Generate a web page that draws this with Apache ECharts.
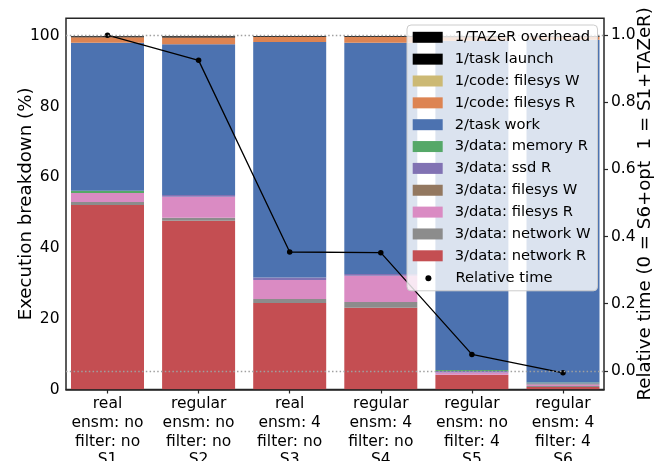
<!DOCTYPE html>
<html>
<head>
<meta charset="utf-8">
<script src="https://cdn.jsdelivr.net/npm/echarts@6/dist/echarts.min.js"></script>
<style>
  html, body { margin: 0; padding: 0; background: #fff; }
  #chart { width: 667px; height: 461px; }
</style>
</head>
<body>
<div id="chart"></div>
<script>
// Scenario descriptors (one per bar)
const runKind   = ['real', 'regular', 'real', 'regular', 'regular', 'regular'];
const ensemble  = ['no', 'no', '4', '4', 'no', '4'];
const filter    = ['no', 'no', 'no', 'no', '4', '4'];
const scenario  = ['S1', 'S2', 'S3', 'S4', 'S5', 'S6'];

// Execution breakdown, percent of each run (stack order: bottom to top)
const networkR    = [52.2, 47.7, 24.5, 23.1, 4.1, 0.7];
const networkW    = [0.85, 0.85, 1.1, 1.65, 0.1, 0.3];
const dataFsR     = [2.55, 5.95, 5.4, 7.4, 0.6, 0.35];
const dataFsW     = [0, 0, 0, 0, 0, 0.1];
const ssdR        = [0, 0.55, 0.65, 0.55, 0.4, 0.3];
const memoryR     = [0.6, 0, 0, 0, 0.35, 0.25];
const taskWork    = [41.9, 42.6, 66.65, 65.4, 93.1, 96.9];
const codeFsR     = [1.55, 1.9, 1.4, 1.6, 1.0, 0.8];
const codeFsW     = [0, 0, 0, 0, 0, 0];
const taskLaunch  = [0.2, 0.3, 0.2, 0.2, 0.2, 0.2];
const tazerOver   = [0.15, 0.15, 0.1, 0.1, 0.15, 0.1];

// Relative run time (0 = S6+opt, 1 = S1+TAZeR)
const relTime = [1.0, 0.925, 0.354, 0.352, 0.049, -0.006];

// Tick values
const pctTicks = [0, 20, 40, 60, 80, 100];
const relTicks = [0, 0.2, 0.4, 0.6, 0.8, 1.0];

const FONT = 'DejaVu Sans';
const INK = '#262626';

const stackDefs = [
  { name: '3/data: network R',  values: networkR,   color: '#c44e52' },
  { name: '3/data: network W',  values: networkW,   color: '#8c8c8c' },
  { name: '3/data: filesys R',  values: dataFsR,    color: '#da8bc3' },
  { name: '3/data: filesys W',  values: dataFsW,    color: '#937860' },
  { name: '3/data: ssd R',      values: ssdR,       color: '#8172b3' },
  { name: '3/data: memory R',   values: memoryR,    color: '#55a868' },
  { name: '2/task work',        values: taskWork,   color: '#4c72b0' },
  { name: '1/code: filesys R',  values: codeFsR,    color: '#dd8452' },
  { name: '1/code: filesys W',  values: codeFsW,    color: '#ccb974' },
  { name: '1/task launch',      values: taskLaunch, color: '#000000' },
  { name: '1/TAZeR overhead',   values: tazerOver,  color: '#000000' }
];

// Plot frame (grid 0) and the slightly wider band that holds the bar slots (grid 1)
const FRAME = { left: 66, right: 63, top: 18.3, bottom: 71.5 };
const SLOT0_CENTER = 107.5;   // px, centre of first bar
const SLOT_STEP = 91.1;       // px between bar centres
const frameRight = 667 - FRAME.right;
const xMin = -(SLOT0_CENTER - FRAME.left) / SLOT_STEP;
const xMax = (frameRight - SLOT0_CENTER) / SLOT_STEP;
const barsLeft = SLOT0_CENTER - SLOT_STEP / 2;
const barsWidth = SLOT_STEP * scenario.length;

const barSeries = stackDefs.map(d => ({
  name: d.name,
  type: 'bar',
  stack: 'total',
  xAxisIndex: 1,
  yAxisIndex: 2,
  barWidth: 73,
  z: 2,
  itemStyle: { color: d.color },
  emphasis: { disabled: true },
  data: d.values
}));

const lineSeries = {
  name: 'Relative time',
  type: 'line',
  xAxisIndex: 0,
  yAxisIndex: 1,
  z: 3,
  symbol: 'circle',
  symbolSize: 5.5,
  itemStyle: { color: '#000' },
  lineStyle: { color: '#000', width: 1.3 },
  emphasis: { disabled: true },
  data: relTime.map((v, i) => [i, v]),
  markLine: {
    silent: true,
    symbol: 'none',
    label: { show: false },
    lineStyle: { color: '#a0a0a0', width: 1.4, type: [1.5, 2.3] },
    data: [{ yAxis: 0 }, { yAxis: 1 }]
  }
};

const chart = echarts.init(document.getElementById('chart'), null, { renderer: 'canvas' });

chart.setOption({
  animation: false,
  backgroundColor: '#ffffff',
  textStyle: { fontFamily: FONT, color: '#000' },
  grid: [
    {
      left: FRAME.left, right: FRAME.right, top: FRAME.top, bottom: FRAME.bottom,
      outerBoundsMode: 'none', containLabel: false,
      show: true, borderColor: INK, borderWidth: 1.5, backgroundColor: 'transparent'
    },
    {
      left: barsLeft, width: barsWidth, top: FRAME.top, bottom: FRAME.bottom,
      outerBoundsMode: 'none', containLabel: false
    }
  ],
  xAxis: [
    {
      gridIndex: 0,
      type: 'value',
      min: xMin,
      max: xMax,
      z: 10,
      axisLine: { show: true, onZero: false, lineStyle: { color: INK, width: 1.5 } },
      axisTick: { show: false },
      axisLabel: { show: false },
      splitLine: { show: false }
    },
    {
      gridIndex: 1,
      type: 'category',
      data: scenario,
      axisLine: { show: false },
      axisTick: { show: true, alignWithLabel: true, length: 4, lineStyle: { color: INK, width: 1.2 } },
      splitLine: { show: false },
      axisLabel: {
        margin: 5.5,
        fontFamily: FONT,
        fontSize: 15.5,
        lineHeight: 18.6,
        color: '#000',
        interval: 0,
        formatter: (v, i) => runKind[i] + '\nensm: ' + ensemble[i] + '\nfilter: ' + filter[i] + '\n' + scenario[i]
      }
    }
  ],
  yAxis: [
    {
      gridIndex: 0,
      type: 'value',
      position: 'left',
      min: 0,
      max: 105,
      name: 'Execution breakdown (%)',
      nameLocation: 'middle',
      nameRotate: 90,
      nameGap: 31,
      nameMoveOverlap: false,
      nameTextStyle: { fontFamily: FONT, fontSize: 18.2, color: '#000' },
      axisLine: { show: false },
      axisTick: { show: true, length: 4, customValues: pctTicks, lineStyle: { color: INK, width: 1.2 } },
      splitLine: { show: false },
      axisLabel: { customValues: pctTicks, margin: 6.5, fontFamily: FONT, fontSize: 15.5, color: '#000' }
    },
    {
      gridIndex: 0,
      type: 'value',
      position: 'right',
      min: -0.0556,
      max: 1.0503,
      name: 'Relative time (0 = S6+opt  1 = S1+TAZeR)',
      nameLocation: 'middle',
      nameRotate: 90,
      nameGap: 32,
      nameMoveOverlap: false,
      nameTextStyle: { fontFamily: FONT, fontSize: 18.2, color: '#000' },
      axisLine: { show: false },
      axisTick: { show: true, length: 4, customValues: relTicks, lineStyle: { color: INK, width: 1.2 } },
      splitLine: { show: false },
      axisLabel: {
        customValues: relTicks, margin: 7, fontFamily: FONT, fontSize: 15.5, color: '#000',
        formatter: v => v.toFixed(1)
      }
    },
    {
      gridIndex: 1,
      type: 'value',
      min: 0,
      max: 105,
      show: false
    }
  ],
  legend: [
    {
      orient: 'vertical',
      left: 407,
      top: 25,
      z: 6,
      padding: [4.8, 7, 27.5, 5.7],
      itemWidth: 30,
      itemHeight: 11,
      itemGap: 6.85,
      icon: 'rect',
      backgroundColor: 'rgba(255,255,255,0.8)',
      borderColor: '#cccccc',
      borderWidth: 1,
      borderRadius: 4,
      selectedMode: false,
      textStyle: { fontFamily: FONT, fontSize: 14.7, lineHeight: 15, color: '#000', padding: [0, 0, 0, 7] },
      data: stackDefs.slice().reverse().map(d => d.name)
    },
    {
      orient: 'vertical',
      left: 425.4,
      top: 270.7,
      z: 7,
      padding: 0,
      itemWidth: 30,
      itemHeight: 6,
      symbolKeepAspect: false,
      selectedMode: false,
      textStyle: { fontFamily: FONT, fontSize: 14.7, lineHeight: 15, color: '#000', padding: [0, 0, 0, 7] },
      data: [{ name: 'Relative time', icon: 'circle' }]
    }
  ],
  series: barSeries.concat([lineSeries])
});
</script>
</body>
</html>
